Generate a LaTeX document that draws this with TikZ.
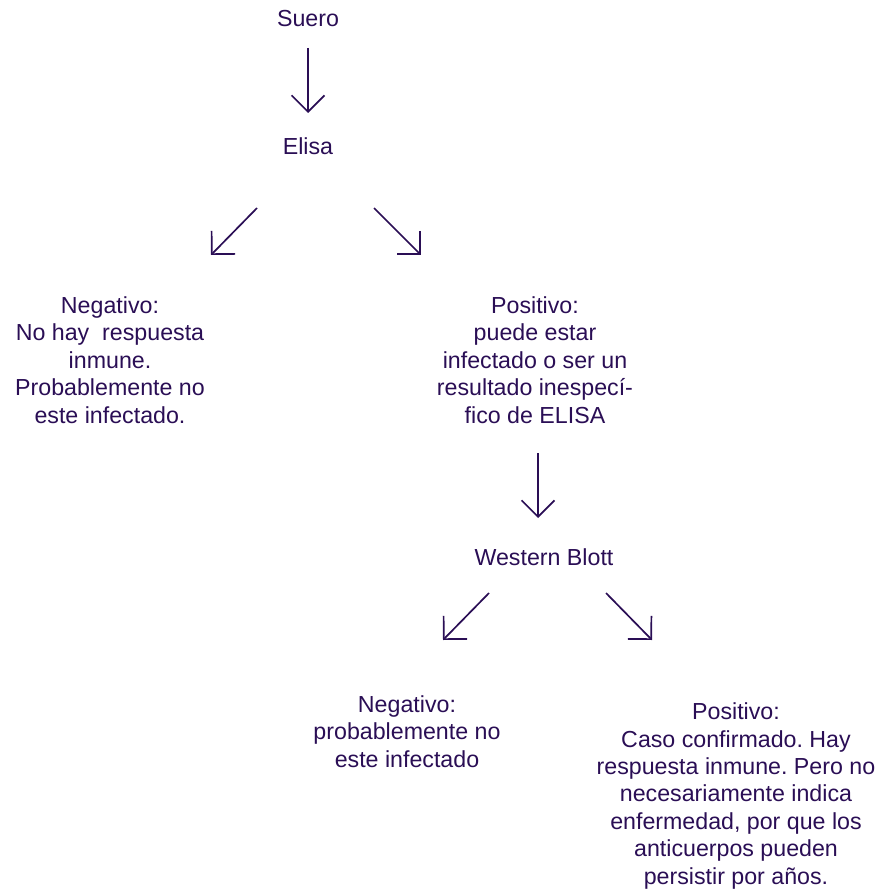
\documentclass[tikz,border=0pt]{standalone}
\usepackage{fontspec}
\setmainfont{Liberation Sans}
\usetikzlibrary{arrows.meta}
\definecolor{ink}{RGB}{42,14,85}
\frenchspacing
\begin{document}
\begin{tikzpicture}[x=1pt,y=-1pt,
  txt/.style={inner sep=0pt,anchor=base,align=center,text=ink,
    font=\fontsize{23.2}{27.4}\selectfont},
  flow/.style={draw=ink,line width=1.7pt,
    -{Straight Barb[length=16.5pt,width=33pt,line join=miter]}}]
\useasboundingbox (0,0) rectangle (884,896);

% tests and results (base anchor sits on the last line's baseline)
\node[txt] (suero) at (308,27) {Suero};
\node[txt] (elisa) at (308,155) {Elisa};
\node[txt] (neg1) at (110,423) {Negativo:\\No hay~ respuesta\\inmune.\\Probablemente no\\este infectado.};
\node[txt] (pos1) at (535,423) {Positivo:\\puede estar\\infectado o ser un\\resultado inespecí-\\fico de ELISA};
\node[txt] (wb) at (544,565) {Western Blott};
\node[txt] (neg2) at (407,767) {Negativo:\\probablemente no\\este infectado};
\node[txt] (pos2) at (736,884) {Positivo:\\Caso confirmado. Hay\\respuesta inmune. Pero no\\necesariamente indica\\enfermedad, por que los\\anticuerpos pueden\\persistir por años.};

% free-standing arrow ends
\coordinate (a1s) at (308,48);  \coordinate (a1e) at (308,113);
\coordinate (a2s) at (257,208); \coordinate (a2e) at (211,255);
\coordinate (a3s) at (374,208); \coordinate (a3e) at (421,255);
\coordinate (a4s) at (538,453); \coordinate (a4e) at (538,518);
\coordinate (a5s) at (489,593); \coordinate (a5e) at (443,640);
\coordinate (a6s) at (606,593); \coordinate (a6e) at (652,640);

\draw[flow] (a1s) -- (a1e);
\draw[flow] (a2s) -- (a2e);
\draw[flow] (a3s) -- (a3e);
\draw[flow] (a4s) -- (a4e);
\draw[flow] (a5s) -- (a5e);
\draw[flow] (a6s) -- (a6e);
\end{tikzpicture}
\end{document}
